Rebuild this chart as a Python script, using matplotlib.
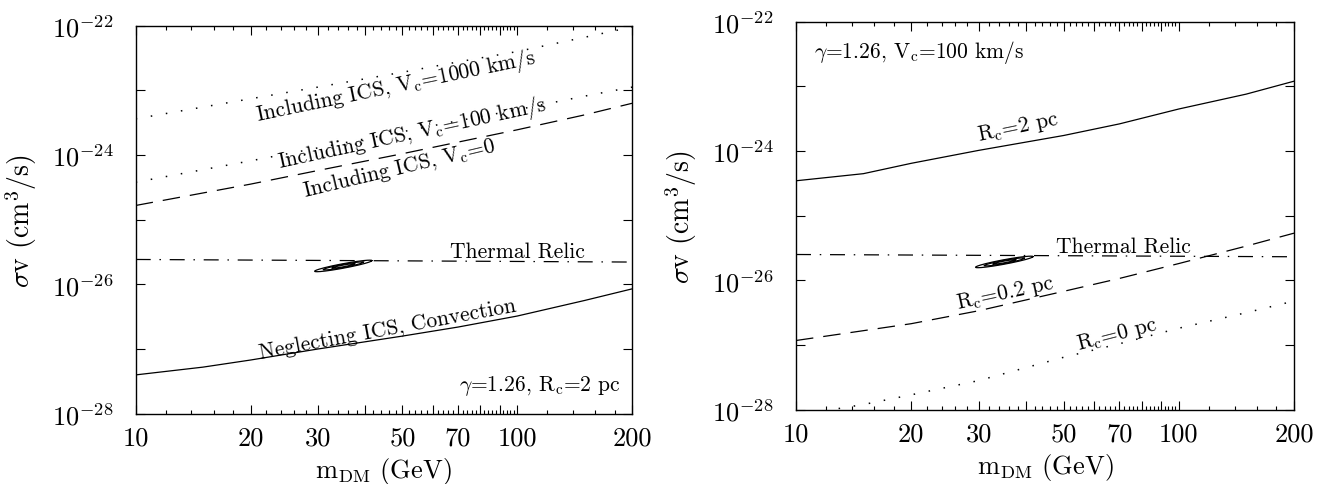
import numpy as np
import matplotlib
matplotlib.use("Agg")
import matplotlib.pyplot as plt
from matplotlib.ticker import FixedLocator, NullFormatter, FixedFormatter

plt.rcParams['mathtext.fontset'] = 'cm'
plt.rcParams['font.family'] = ['cmr10', 'DejaVu Serif']
plt.rcParams['axes.unicode_minus'] = False

# ---------------- data (log10 of sigma v) ----------------
# Left panel
mL_1000 = [10, 20, 30, 50, 70, 100, 150, 200]
svL_1000 = [-23.44, -23.13, -22.95, -22.72, -22.56, -22.40, -22.18, -22.02]
mL_100 = [10, 20, 30, 50, 70, 100, 150, 200]
svL_100 = [-24.42, -24.09, -23.89, -23.64, -23.47, -23.30, -23.09, -22.95]
mL_0 = [10, 20, 30, 50, 70, 100, 150, 200]
svL_0 = [-24.78, -24.45, -24.24, -23.98, -23.80, -23.61, -23.38, -23.20]
mL_thermal = [10, 200]
svL_thermal = [-25.615, -25.655]
mL_neg = [10, 15, 20, 30, 50, 70, 100, 150, 200]
svL_neg = [-27.40, -27.28, -27.17, -27.00, -26.80, -26.66, -26.49, -26.25, -26.07]

# Right panel
mR_2 = [10, 15, 20, 30, 50, 70, 100, 150, 200]
svR_2 = [-24.46, -24.35, -24.19, -23.99, -23.76, -23.58, -23.35, -23.12, -22.92]
mR_02 = [10, 20, 30, 50, 70, 100, 150, 200]
svR_02 = [-26.93, -26.67, -26.47, -26.17, -25.97, -25.74, -25.47, -25.27]
mR_0 = [11.8, 15, 20, 30, 50, 70, 100, 150, 200]
svR_0 = [-28.02, -27.92, -27.77, -27.55, -27.19, -26.98, -26.74, -26.50, -26.32]
mR_thermal = [10, 200]
svR_thermal = [-25.60, -25.635]

# Best-fit contour region (centre mass, centre log sv, half extent in log m,
# tilt in log sv, half thickness in log sv)
ell_m0 = 35.0
ell_sv0 = -25.715
ell_dlogm = 0.075
ell_dlogsv = 0.082
ell_thick = 0.035
ell_levels = [1.0, 0.7, 0.4]

xticks_labelled = [10, 20, 30, 50, 70, 100, 200]
xticks_major = [10, 20, 30, 40, 50, 60, 70, 80, 90, 100, 200]
xticks_minor = [v for v in range(12, 100, 2) if v % 10 != 0] + [120, 140, 160, 180]
yticks_major = [-28, -27, -26, -25, -24, -23, -22]
yticks_labelled = [-28, -26, -24, -22]

LW = 0.9
DOT = (0, (1, 9))
DASH = (0, (14, 8))
DASHDOT = (0, (12, 7, 1.2, 7))

fig = plt.figure(figsize=(13.25, 4.85), dpi=100)
axL = fig.add_axes([135.7 / 1325, 1 - 414.7 / 485, (632 - 135.7) / 1325, (414.7 - 26.7) / 485])
axR = fig.add_axes([796 / 1325, 1 - 410.7 / 485, (1294 - 796) / 1325, (410.7 - 22.7) / 485])


def lin(v):
    return [10.0 ** x for x in v]


def style(ax):
    ax.set_xscale('log')
    ax.set_yscale('log')
    ax.set_xlim(10, 200)
    ax.set_ylim(1e-28, 1e-22)
    ax.xaxis.set_major_locator(FixedLocator(xticks_major))
    ax.xaxis.set_major_formatter(FixedFormatter(
        [str(v) if v in xticks_labelled else '' for v in xticks_major]))
    ax.xaxis.set_minor_locator(FixedLocator(xticks_minor))
    ax.xaxis.set_minor_formatter(NullFormatter())
    ax.yaxis.set_major_locator(FixedLocator([10.0 ** v for v in yticks_major]))
    ax.yaxis.set_major_formatter(FixedFormatter(
        [r'$10^{%d}$' % v if v in yticks_labelled else '' for v in yticks_major]))
    ax.yaxis.set_minor_locator(FixedLocator([]))
    ax.tick_params(which='both', direction='in', top=True, right=True, width=0.8)
    ax.tick_params(which='major', length=6.5, labelsize=19)
    ax.tick_params(axis='x', which='major', pad=9)
    ax.tick_params(axis='y', which='major', pad=16)
    ax.tick_params(which='minor', length=3.2)
    for s in ax.spines.values():
        s.set_linewidth(1.0)
    ax.set_xlabel(r'm$_{\rm DM}$ (GeV)', fontsize=19, labelpad=4)
    ax.set_ylabel(r'$\sigma$v (cm$^3$/s)', fontsize=20, labelpad=9)


def ellipse(ax):
    t = np.linspace(0, 2 * np.pi, 200)
    for k in ell_levels:
        lm = np.log10(ell_m0) + k * ell_dlogm * np.cos(t)
        ls = ell_sv0 + k * ell_dlogsv * np.cos(t) + k * ell_thick * np.sin(t)
        ax.plot(10 ** lm, 10 ** ls, color='black', lw=0.9)


style(axL)
style(axR)

# Left panel
axL.plot(mL_1000, lin(svL_1000), color='black', lw=1.1, linestyle=DOT)
axL.plot(mL_100, lin(svL_100), color='black', lw=1.1, linestyle=DOT)
axL.plot(mL_0, lin(svL_0), color='black', lw=LW, linestyle=DASH)
axL.plot(mL_thermal, lin(svL_thermal), color='black', lw=LW, linestyle=DASHDOT)
axL.plot(mL_neg, lin(svL_neg), color='black', lw=LW)
ellipse(axL)

tfs = 15.5
axL.text(48, 10 ** -22.93, r'Including ICS, V$_{\rm c}$=1000 km/s', rotation=11.7,
         ha='center', va='center', fontsize=tfs, rotation_mode='anchor')
axL.text(53, 10 ** -23.65, r'Including ICS, V$_{\rm c}$=100 km/s', rotation=12.2,
         ha='center', va='center', fontsize=tfs, rotation_mode='anchor')
axL.text(49, 10 ** -24.19, r'Including ICS, V$_{\rm c}$=0', rotation=13.4,
         ha='center', va='center', fontsize=tfs, rotation_mode='anchor')
axL.text(100, 10 ** -25.49, 'Thermal Relic', ha='center', va='center', fontsize=tfs)
axL.text(45.6, 10 ** -26.68, 'Neglecting ICS, Convection', rotation=10.5,
         ha='center', va='center', fontsize=tfs, rotation_mode='anchor')
axL.text(0.977, 0.075, r'$\gamma$=1.26, R$_{\rm c}$=2 pc', transform=axL.transAxes,
         ha='right', va='center', fontsize=tfs)

# Right panel
axR.plot(mR_2, lin(svR_2), color='black', lw=LW)
axR.plot(mR_02, lin(svR_02), color='black', lw=LW, linestyle=DASH)
axR.plot(mR_0, lin(svR_0), color='black', lw=1.1, linestyle=DOT)
axR.plot(mR_thermal, lin(svR_thermal), color='black', lw=LW, linestyle=DASHDOT)
ellipse(axR)

axR.text(0.036, 0.923, r'$\gamma$=1.26, V$_{\rm c}$=100 km/s', transform=axR.transAxes,
         ha='left', va='center', fontsize=tfs)
axR.text(38, 10 ** -23.62, r'R$_{\rm c}$=2 pc', rotation=11.7,
         ha='center', va='center', fontsize=tfs, rotation_mode='anchor')
axR.text(71.6, 10 ** -25.47, 'Thermal Relic', ha='center', va='center', fontsize=tfs)
axR.text(35.2, 10 ** -26.19, r'R$_{\rm c}$=0.2 pc', rotation=12,
         ha='center', va='center', fontsize=tfs, rotation_mode='anchor')
axR.text(68.8, 10 ** -26.83, r'R$_{\rm c}$=0 pc', rotation=14.4,
         ha='center', va='center', fontsize=tfs, rotation_mode='anchor')

fig.savefig('out.png', dpi=100)
